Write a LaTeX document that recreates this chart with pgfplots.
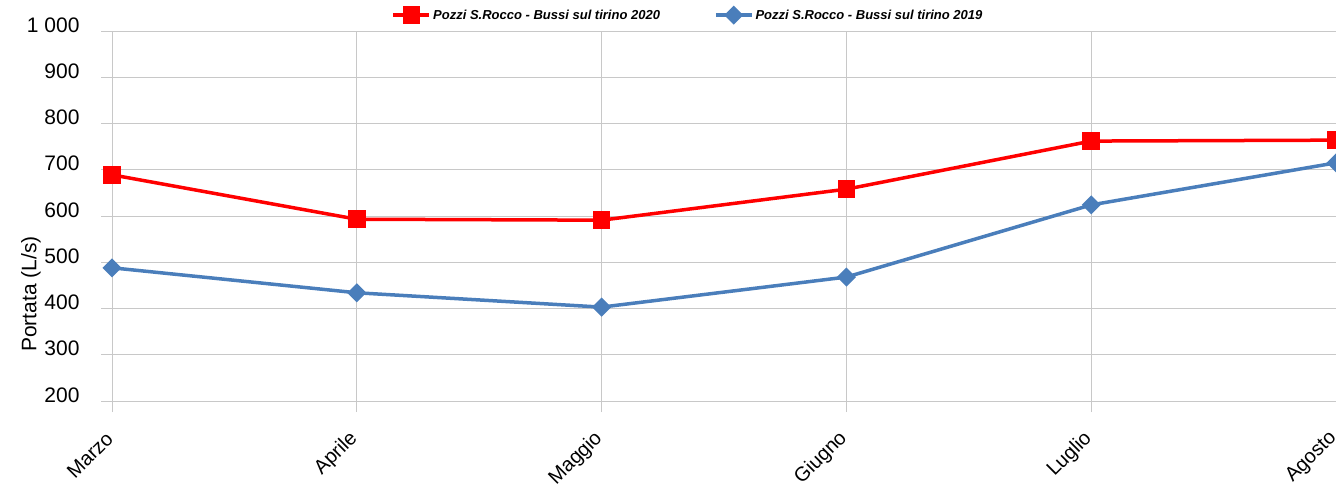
\documentclass[border=0pt]{standalone}
\usepackage{fontspec}
\setmainfont{Liberation Sans}
\usepackage{pgfplots}
\pgfplotsset{compat=1.18}
\definecolor{exblue}{RGB}{74,126,187}
\definecolor{exgrid}{RGB}{200,200,200}
\begin{document}
\begin{tikzpicture}
\begin{axis}[
  name=ax,
  scale only axis,
  width=1224pt, height=370pt,
  xmin=0, xmax=5, ymin=200, ymax=1000,
  xtick={0,1,2,3,4,5},
  xticklabels={Marzo,Aprile,Maggio,Giugno,Luglio,Agosto},
  ytick={200,300,...,1000},
  /pgf/number format/assume math mode=true,
  /pgf/number format/1000 sep={\ },
  grid=major,
  grid style={exgrid, line width=0.8pt},
  axis x line*=bottom, axis y line*=left,
  axis line style={exgrid, line width=0.8pt},
  tick align=outside,
  major tick length=11pt,
  tick style={exgrid, line width=0.8pt},
  yticklabel style={font=\fontsize{21}{24}\selectfont, anchor=east, xshift=-18pt, yshift=6pt},
  xticklabel style={font=\fontsize{20}{23}\selectfont, yshift=-21pt, rotate=45, anchor=east},
  ylabel={Portata (L/s)},
  ylabel style={font=\fontsize{21}{24}\selectfont, at={(axis description cs:-0.0662,0.289)}, anchor=center, rotate=0},
  legend columns=2,
  legend style={draw=none, fill=none, at={(axis description cs:0.4706,1.043)}, anchor=center,
    font=\fontsize{13}{15}\selectfont\bfseries\itshape,
    /tikz/every even column/.append style={column sep=52pt}},
  legend image code/.code={%
    \draw[#1] (0pt,0pt) -- (36pt,0pt);
    \draw[#1, only marks] plot coordinates {(18pt,0pt)};},
  clip=true,
]
\addplot[red, line width=3.5pt, mark=square*, mark size=7pt, mark options={solid}]
  coordinates {(0,689) (1,593) (2,591) (3,658) (4,762) (5,764)};
\addlegendentry{Pozzi S.Rocco - Bussi sul tirino 2020}
\addplot[exblue, line width=3.5pt, mark=square*, mark size=5pt, mark options={solid, rotate=45}]
  coordinates {(0,488) (1,434) (2,403) (3,468) (4,624) (5,715)};
\addlegendentry{Pozzi S.Rocco - Bussi sul tirino 2019}
\end{axis}
\pgfresetboundingbox
\path[use as bounding box] ([shift={(-112pt,-86pt)}]ax.south west) rectangle ([shift={(0pt,31pt)}]ax.north east);
\end{tikzpicture}
\end{document}
